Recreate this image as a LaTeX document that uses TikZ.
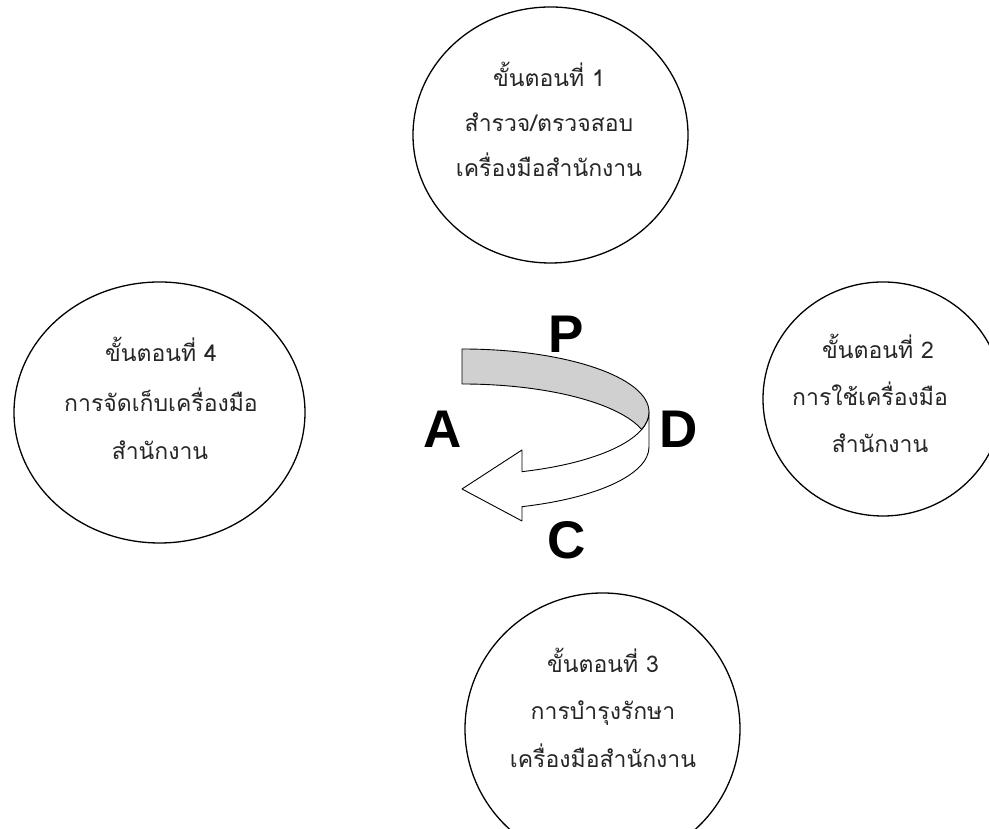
\documentclass[tikz,border=0pt]{standalone}
\usepackage{fontspec}
\setmainfont{Liberation Sans}
\newfontfamily\thaifont[Script=Thai]{Loma}
\usetikzlibrary{shapes.geometric,calc}
\definecolor{bandgray}{RGB}{208,208,208}
\tikzset{
  stepellipse/.style={draw=black, line width=1.3pt, ellipse, inner sep=0pt},
  thailine/.style={font=\thaifont\fontsize{23}{26}\selectfont, anchor=base, inner sep=0pt, text=black!85},
  pdca/.style={font=\bfseries\fontsize{53}{60}\selectfont, anchor=base, inner sep=0pt},
  band/.style={draw=black, line width=0.9pt, line join=round}
}
\begin{document}
\begin{tikzpicture}[x=1pt,y=1pt]
\useasboundingbox (0,0) rectangle (989,829);
\clip (0,0) rectangle (989,829);
\fill[white] (0,0) rectangle (989,829);

% step ellipses
\node[stepellipse, minimum width=275pt, minimum height=256pt] (e1) at (550.5,694) {};
\node[stepellipse, minimum width=240pt, minimum height=234pt] (e2) at (883,430) {};
\node[stepellipse, minimum width=275pt, minimum height=272pt] (e3) at (602.5,100) {};
\node[stepellipse, minimum width=291pt, minimum height=261pt] (e4) at (159.5,416.5) {};

% texts
\node[thailine] (t1a) at (549,742) {ขั้นตอนที่ 1};
\node[thailine] (t1b) at (549,697) {สำรวจ/ตรวจสอบ};
\node[thailine] (t1c) at (549,652) {เครื่องมือสำนักงาน};

\node[thailine] (t2a) at (878,470) {ขั้นตอนที่ 2};
\node[thailine] (t2b) at (870,423) {การใช้เครื่องมือ};
\node[thailine] (t2c) at (880,376) {สำนักงาน};

\node[thailine] (t3a) at (603,156) {ขั้นตอนที่ 3};
\node[thailine] (t3b) at (603,109) {การบำรุงรักษา};
\node[thailine] (t3c) at (603,61) {เครื่องมือสำนักงาน};

\node[thailine] (t4a) at (161,467) {ขั้นตอนที่ 4};
\node[thailine] (t4b) at (161,417) {การจัดเก็บเครื่องมือ};
\node[thailine] (t4c) at (160,369) {สำนักงาน};

% curved ribbon arrow
\coordinate (ctr1) at (462,417);
\coordinate (ctr2) at (462,382);
% front (white) band with arrowhead
\draw[band, fill=white] (649,417)
  arc[start angle=0, end angle=-71.3, x radius=187, y radius=63]
  -- (522,379) -- (462,340) -- (522,308)
  -- ($(ctr2)+(-71.3:187 and 63)$)
  arc[start angle=-71.3, end angle=0, x radius=187, y radius=63]
  -- cycle;
% back (gray) band
\draw[band, fill=bandgray] (462,480)
  arc[start angle=90, end angle=0, x radius=187, y radius=63]
  arc[start angle=0, end angle=-16.1, x radius=187, y radius=63]
  -- ($(ctr2)+(16.1:187 and 63)$)
  arc[start angle=16.1, end angle=90, x radius=187, y radius=63]
  -- cycle;

% PDCA letters
\node[pdca] (lp) at (566,476) {P};
\node[pdca] (ld) at (679,381) {D};
\node[pdca] (lc) at (567,270) {C};
\node[pdca] (la) at (443,381) {A};
\end{tikzpicture}
\end{document}
